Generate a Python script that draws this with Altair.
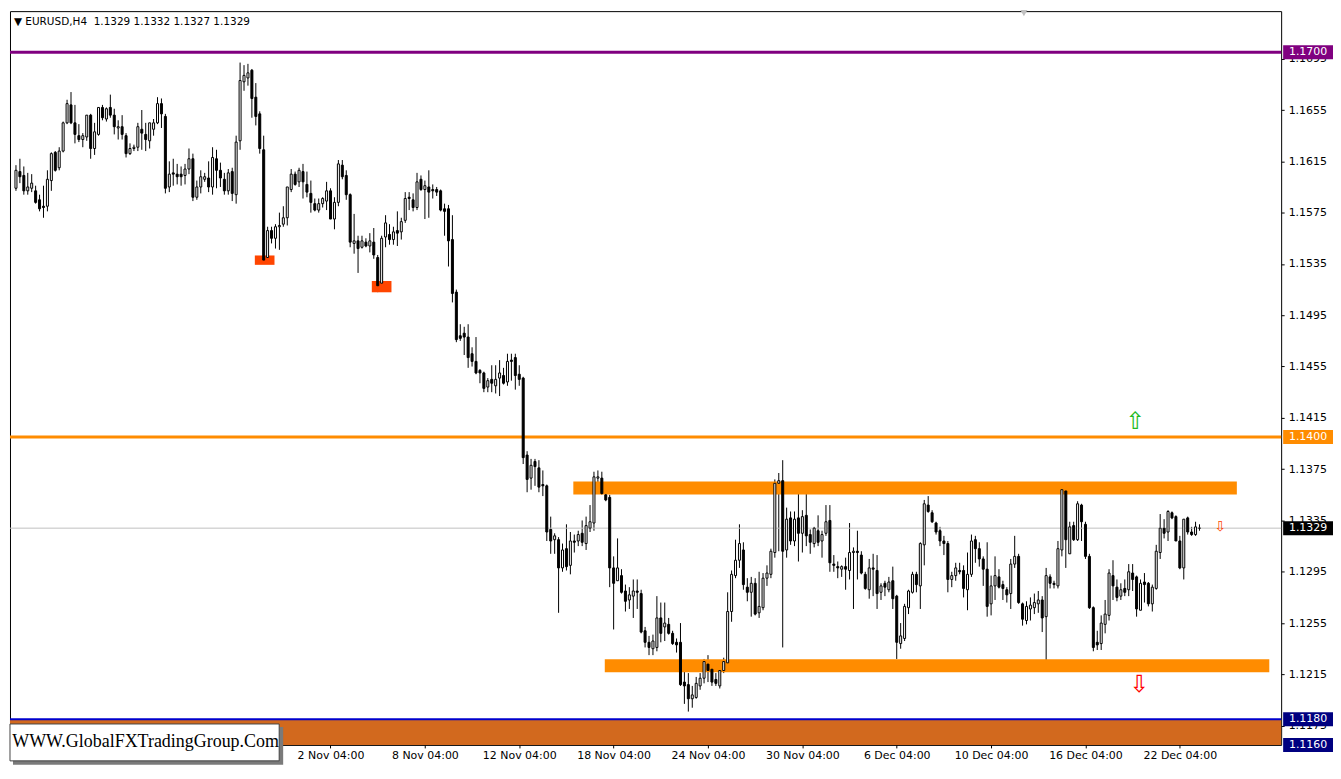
import altair as alt
import pandas as pd

# ---- OHLC data in pips (1 pip = 0.0001), one 4H bar each ----
OPEN = [
11594,11607,11604,11592,11594,11592,11585,11580,11580,11600,
11622,11610,11623,11645,11659,11645,11635,11632,11634,11651,
11625,11636,11657,11648,11657,11651,11641,11642,11635,11621,
11625,11626,11640,11636,11631,11640,11645,11660,11650,11595,
11606,11605,11605,11604,11609,11617,11587,11595,11601,11602,
11595,11617,11608,11601,11592,11607,11589,11631,11677,11680,
11686,11665,11652,11624,11540,11561,11555,11564,11566,11571,
11593,11605,11599,11607,11597,11590,11582,11577,11582,11584,
11592,11570,11583,11612,11604,11589,11551,11553,11548,11552,
11549,11552,11540,11520,11556,11558,11554,11561,11560,11569,
11587,11585,11579,11601,11593,11595,11593,11593,11592,11578,
11578,11554,11513,11479,11481,11478,11465,11459,11452,11450,
11439,11445,11440,11446,11448,11443,11460,11462,11449,11446,
11386,11368,11381,11376,11363,11362,11328,11320,11320,11298,
11313,11300,11319,11319,11325,11317,11329,11333,11368,11368,
11355,11353,11298,11288,11292,11280,11273,11276,11280,11278,
11249,11240,11235,11236,11259,11252,11254,11247,11240,11240,
11209,11207,11196,11197,11206,11212,11223,11219,11211,11206,
11218,11224,11264,11292,11304,11312,11283,11279,11286,11263,
11267,11290,11293,11310,11364,11366,11312,11337,11319,11337,
11325,11339,11324,11317,11327,11319,11325,11335,11301,11299,
11297,11299,11296,11310,11311,11308,11293,11281,11298,11296,
11279,11286,11281,11288,11276,11239,11243,11267,11279,11293,
11284,11316,11347,11341,11333,11327,11319,11317,11289,11292,
11296,11296,11281,11293,11320,11313,11305,11297,11270,11284,
11291,11285,11281,11278,11301,11307,11270,11257,11266,11267,
11270,11273,11260,11291,11286,11284,11312,11358,11309,11331,
11320,11347,11332,11307,11267,11240,11239,11254,11261,11292,
11283,11276,11282,11281,11294,11291,11265,11287,11286,11270,
11282,11310,11329,11326,11341,11338,11319,11298,11337,11326,
11324,11329]
HIGH = [
11612,11617,11611,11606,11605,11596,11589,11596,11608,11622,
11623,11626,11646,11663,11669,11659,11644,11637,11651,11652,
11645,11657,11659,11657,11667,11656,11647,11651,11637,11629,
11628,11645,11655,11645,11645,11648,11665,11664,11652,11615,
11617,11613,11611,11613,11625,11621,11600,11608,11606,11615,
11626,11624,11614,11606,11609,11610,11635,11692,11690,11691,
11687,11676,11654,11635,11564,11564,11566,11575,11580,11595,
11609,11607,11610,11613,11607,11600,11586,11586,11587,11599,
11594,11587,11616,11616,11608,11590,11574,11557,11557,11555,
11559,11563,11542,11557,11573,11566,11564,11576,11571,11591,
11591,11590,11606,11604,11600,11608,11597,11595,11593,11582,
11581,11573,11515,11488,11486,11488,11470,11478,11453,11451,
11446,11456,11456,11460,11454,11465,11465,11465,11456,11447,
11389,11383,11383,11382,11374,11363,11338,11325,11322,11317,
11332,11326,11324,11327,11335,11338,11347,11373,11374,11373,
11358,11355,11307,11321,11297,11285,11283,11289,11289,11281,
11252,11245,11246,11276,11271,11271,11259,11249,11243,11255,
11221,11216,11206,11213,11216,11227,11230,11223,11216,11220,
11228,11279,11296,11320,11332,11318,11290,11291,11290,11295,
11294,11300,11313,11367,11372,11382,11345,11342,11342,11359,
11343,11357,11328,11330,11339,11327,11347,11347,11308,11303,
11300,11306,11333,11314,11327,11311,11295,11305,11309,11308,
11286,11288,11291,11299,11277,11255,11270,11281,11295,11295,
11318,11351,11354,11343,11334,11330,11323,11319,11295,11302,
11302,11300,11310,11324,11323,11318,11307,11318,11292,11307,
11297,11288,11283,11305,11323,11309,11271,11272,11275,11278,
11280,11276,11298,11293,11288,11319,11360,11359,11334,11334,
11350,11348,11334,11309,11268,11249,11261,11273,11297,11304,
11289,11286,11289,11301,11301,11292,11289,11294,11287,11285,
11316,11340,11336,11343,11342,11339,11323,11336,11338,11330,
11334,11332]
LOW = [
11592,11598,11589,11589,11591,11582,11576,11571,11576,11592,
11607,11608,11622,11644,11644,11629,11630,11626,11631,11617,
11620,11635,11647,11646,11649,11636,11632,11632,11618,11620,
11623,11623,11624,11623,11625,11635,11644,11641,11590,11591,
11596,11597,11596,11597,11605,11584,11585,11590,11599,11591,
11589,11594,11595,11589,11589,11584,11582,11624,11670,11674,
11649,11643,11621,11536,11538,11551,11547,11546,11564,11565,
11591,11596,11595,11586,11587,11575,11576,11575,11579,11577,
11570,11562,11580,11601,11585,11548,11543,11528,11547,11548,
11544,11539,11513,11519,11548,11550,11550,11549,11554,11567,
11577,11576,11577,11592,11570,11571,11586,11588,11576,11557,
11533,11505,11474,11475,11464,11454,11455,11449,11442,11435,
11435,11435,11434,11432,11441,11440,11444,11437,11440,11379,
11357,11359,11362,11357,11354,11319,11309,11309,11263,11295,
11296,11293,11310,11315,11315,11312,11326,11327,11365,11355,
11350,11283,11250,11288,11278,11264,11266,11259,11266,11247,
11236,11230,11230,11233,11240,11241,11246,11238,11232,11206,
11192,11186,11189,11196,11203,11208,11209,11206,11206,11204,
11216,11223,11256,11290,11298,11281,11272,11260,11261,11259,
11265,11284,11290,11306,11311,11236,11306,11316,11315,11303,
11310,11315,11309,11314,11315,11306,11323,11295,11295,11290,
11291,11281,11289,11266,11289,11293,11281,11274,11276,11266,
11273,11276,11279,11266,11227,11235,11241,11262,11278,11279,
11266,11300,11341,11333,11324,11315,11308,11279,11283,11288,
11293,11275,11265,11291,11302,11299,11284,11260,11261,11273,
11282,11273,11271,11266,11298,11270,11253,11254,11257,11262,
11263,11248,11223,11282,11282,11282,11307,11298,11309,11319,
11319,11319,11305,11266,11233,11234,11234,11247,11257,11273,
11272,11273,11276,11276,11280,11260,11265,11271,11268,11264,
11281,11305,11321,11319,11336,11319,11297,11289,11324,11323,
11323,11327]
CLOSE = [
11608,11603,11592,11595,11598,11583,11578,11579,11601,11621,
11608,11623,11645,11660,11645,11636,11632,11635,11651,11625,
11638,11657,11649,11656,11651,11642,11642,11636,11621,11625,
11626,11642,11637,11632,11645,11645,11660,11652,11594,11605,
11605,11603,11603,11609,11617,11587,11595,11603,11603,11595,
11618,11608,11602,11592,11606,11590,11630,11678,11682,11684,
11664,11650,11625,11538,11561,11555,11564,11565,11571,11595,
11605,11597,11608,11599,11591,11583,11577,11582,11586,11592,
11570,11583,11613,11603,11589,11552,11553,11547,11553,11549,
11553,11542,11518,11555,11567,11554,11560,11559,11568,11586,
11586,11579,11599,11593,11596,11591,11592,11591,11577,11576,
11553,11512,11476,11477,11478,11462,11459,11450,11450,11438,
11444,11442,11445,11450,11442,11459,11459,11448,11445,11384,
11367,11378,11377,11361,11362,11326,11319,11323,11298,11312,
11299,11319,11318,11324,11318,11331,11334,11369,11369,11356,
11351,11298,11286,11298,11279,11272,11277,11280,11279,11248,
11240,11236,11241,11259,11247,11255,11247,11239,11238,11207,
11206,11196,11199,11208,11212,11225,11218,11209,11208,11218,
11225,11264,11293,11304,11317,11285,11279,11286,11262,11268,
11290,11294,11311,11364,11366,11311,11336,11319,11336,11325,
11338,11323,11318,11329,11318,11324,11334,11302,11300,11298,
11299,11297,11310,11311,11310,11294,11282,11298,11297,11278,
11284,11283,11287,11274,11240,11245,11268,11280,11293,11285,
11317,11348,11342,11334,11326,11319,11317,11289,11292,11298,
11295,11282,11293,11319,11313,11305,11297,11268,11284,11292,
11283,11282,11277,11301,11307,11271,11258,11268,11269,11271,
11273,11259,11292,11286,11285,11313,11359,11320,11330,11320,
11348,11334,11307,11267,11236,11238,11255,11262,11294,11284,
11275,11281,11279,11295,11289,11266,11286,11285,11270,11283,
11311,11329,11325,11342,11337,11319,11298,11336,11326,11324,
11330,11329]

DATE_POS = [80, 104, 128, 152, 176, 200, 224, 248, 272, 296]
DATE_LABELS = ["2 Nov 04:00", "8 Nov 04:00", "12 Nov 04:00", "18 Nov 04:00",
               "24 Nov 04:00", "30 Nov 04:00", "6 Dec 04:00", "10 Dec 04:00",
               "16 Dec 04:00", "22 Dec 04:00"]
Y_TICKS = [1.1695, 1.1655, 1.1615, 1.1575, 1.1535, 1.1495, 1.1455, 1.1415,
           1.1375, 1.1335, 1.1295, 1.1255, 1.1215, 1.1175]

# price levels / boxes on right scale
LEVEL_PRICES = [1.1700, 1.1400, 1.1329, 1.1180, 1.1160]
LEVEL_LABELS = ["1.1700", "1.1400", "1.1329", "1.1180", "1.1160"]
LEVEL_FILLS = ["#800080", "#FF8C00", "#000000", "#000080", "#000080"]

# zones (bar index start/end, price low/high)
ZONE_X1 = [141.75, 149.75]
ZONE_X2 = [310.5, 318.75]
ZONE_Y1 = [1.13553, 1.12167]
ZONE_Y2 = [1.13654, 1.12268]
MARK_X1 = [60.75, 90.5]
MARK_X2 = [65.75, 95.5]
MARK_Y1 = [1.15343, 1.15129]
MARK_Y2 = [1.15416, 1.15217]

W, H = 1275, 736
X_DOM = [-0.25, 320.5]
Y_DOM = [1.1160, 1.17321]
FONT = "DejaVu Sans"

n = len(OPEN)
df = pd.DataFrame({
    "idx": list(range(n)),
    "open": [v / 10000 for v in OPEN],
    "high": [v / 10000 for v in HIGH],
    "low": [v / 10000 for v in LOW],
    "close": [v / 10000 for v in CLOSE],
})
df["hi"] = df[["high", "open", "close"]].max(axis=1)
df["lo"] = df[["low", "open", "close"]].min(axis=1)
df["top"] = df[["open", "close"]].max(axis=1)
df["bot"] = df[["open", "close"]].min(axis=1)
df["dir"] = ["up" if c >= o else "down" for o, c in zip(df["open"], df["close"])]

xs = alt.Scale(domain=X_DOM, nice=False, zero=False)
ys = alt.Scale(domain=Y_DOM, nice=False, zero=False)

label_expr = " : ".join(f"datum.value == {p} ? '{l}'" for p, l in zip(DATE_POS, DATE_LABELS)) + " : ''"

x_axis = alt.Axis(values=DATE_POS, labelExpr=label_expr, title=None, grid=False,
                  domain=False, ticks=True, tickSize=3, tickColor="black",
                  labelFont=FONT, labelFontSize=11, labelColor="black",
                  labelPadding=2, labelAngle=0, labelFlush=False, labelOverlap=False)
y_axis = alt.Axis(orient="right", values=Y_TICKS, format=".4f", title=None, grid=False,
                  domain=False, ticks=True, tickSize=3, tickColor="black",
                  labelFont=FONT, labelFontSize=11, labelColor="black",
                  labelPadding=4, labelOverlap=False, labelFlush=False)


def X(field):
    return alt.X(field, type="quantitative", scale=xs, axis=x_axis)


def Y(field):
    return alt.Y(field, type="quantitative", scale=ys, axis=y_axis)


one = pd.DataFrame({"a": [0]})

band = alt.Chart(one).mark_rect(color="#D2691E").encode(
    x=alt.value(0), x2=alt.value(W),
    y=alt.datum(1.1180, scale=ys, axis=y_axis), y2=alt.datum(1.1160))

zones = alt.Chart(pd.DataFrame({"x1": ZONE_X1, "x2": ZONE_X2, "y1": ZONE_Y1, "y2": ZONE_Y2})).mark_rect(
    color="#FF8C00").encode(x=X("x1"), x2="x2:Q", y=Y("y1"), y2="y2:Q")

marks = alt.Chart(pd.DataFrame({"x1": MARK_X1, "x2": MARK_X2, "y1": MARK_Y1, "y2": MARK_Y2})).mark_rect(
    color="#FF4500").encode(x=X("x1"), x2="x2:Q", y=Y("y1"), y2="y2:Q")


def hline(price, color, width):
    return alt.Chart(one).mark_rule(color=color, strokeWidth=width).encode(
        x=alt.value(0), x2=alt.value(W), y=alt.datum(price, scale=ys, axis=y_axis))


lines = [hline(1.1700, "#800080", 3), hline(1.1400, "#FF8C00", 3),
         hline(1.1329, "#C0C0C0", 1), hline(1.1180, "#0000CD", 2)]

wicks = alt.Chart(df).mark_rule(color="black", strokeWidth=1).encode(
    x=X("idx"), y=Y("lo"), y2="hi:Q")

bodies = alt.Chart(df).mark_bar(size=2, stroke="black", strokeWidth=1).encode(
    x=X("idx"), y=Y("bot"), y2="top:Q",
    fill=alt.Fill("dir:N", scale=alt.Scale(domain=["up", "down"], range=["white", "black"]), legend=None))

arrows = alt.Chart(pd.DataFrame({
    "idx": [284.75, 285.75, 306.25],
    "price": [1.14115, 1.12066, 1.13298],
    "ch": ["\u21e7", "\u21e9", "\u21e9"],
    "col": ["#22B922", "#FF0000", "#FF4500"],
    "fs": [24, 24, 14],
})).mark_text(font=FONT, baseline="middle", align="center").encode(
    x=X("idx"), y=Y("price"),
    text="ch:N", color=alt.Color("col:N", scale=None), size=alt.Size("fs:Q", scale=None))

box_path = "M-1,-0.28L1,-0.28L1,0.28L-1,0.28Z"
boxes_df = pd.DataFrame({"price": LEVEL_PRICES, "label": LEVEL_LABELS, "fill": LEVEL_FILLS})
boxes = alt.Chart(boxes_df).mark_point(shape=box_path, size=2500, filled=True, opacity=1, strokeWidth=0).encode(
    x=alt.value(W + 27), y=Y("price"), fill=alt.Fill("fill:N", scale=None))
box_text = alt.Chart(boxes_df).mark_text(color="white", font=FONT, fontSize=11, align="center", baseline="middle").encode(
    x=alt.value(W + 27), y=Y("price"), text="label:N")

wm_shadow = alt.Chart(one).mark_rect(color="#7a7a7a").encode(
    x=alt.value(3), x2=alt.value(274), y=alt.value(H - 18), y2=alt.value(H + 20))
wm_box = alt.Chart(one).mark_rect(fill="white", stroke="#444444", strokeWidth=1).encode(
    x=alt.value(0), x2=alt.value(270), y=alt.value(H - 21), y2=alt.value(H + 16))
wm_text = alt.Chart(one).mark_text(text="WWW.GlobalFXTradingGroup.Com", font="Liberation Serif",
                                   fontSize=18, color="black", align="center", baseline="middle").encode(
    x=alt.value(136), y=alt.value(H - 3))

title = alt.Chart(one).mark_text(text="\u25bc EURUSD,H4\u00a0\u00a01.1329 1.1332 1.1327 1.1329",
                                 font=FONT, fontSize=10.5, color="black", align="left",
                                 baseline="middle").encode(x=alt.value(4), y=alt.value(11))

shift_mark = alt.Chart(one).mark_point(shape="triangle-down", filled=True, color="#C0C0C0",
                                       size=50, opacity=1).encode(x=alt.value(1017), y=alt.value(2))

chart = alt.layer(
    wicks, band, zones, marks, *lines, bodies, arrows, boxes, box_text,
    wm_shadow, wm_box, wm_text, title, shift_mark
).properties(width=W, height=H, padding=0, background="white").configure_view(
    stroke="black", strokeWidth=1)

chart.save("out.html", embed_options={"renderer": "svg", "actions": False})
